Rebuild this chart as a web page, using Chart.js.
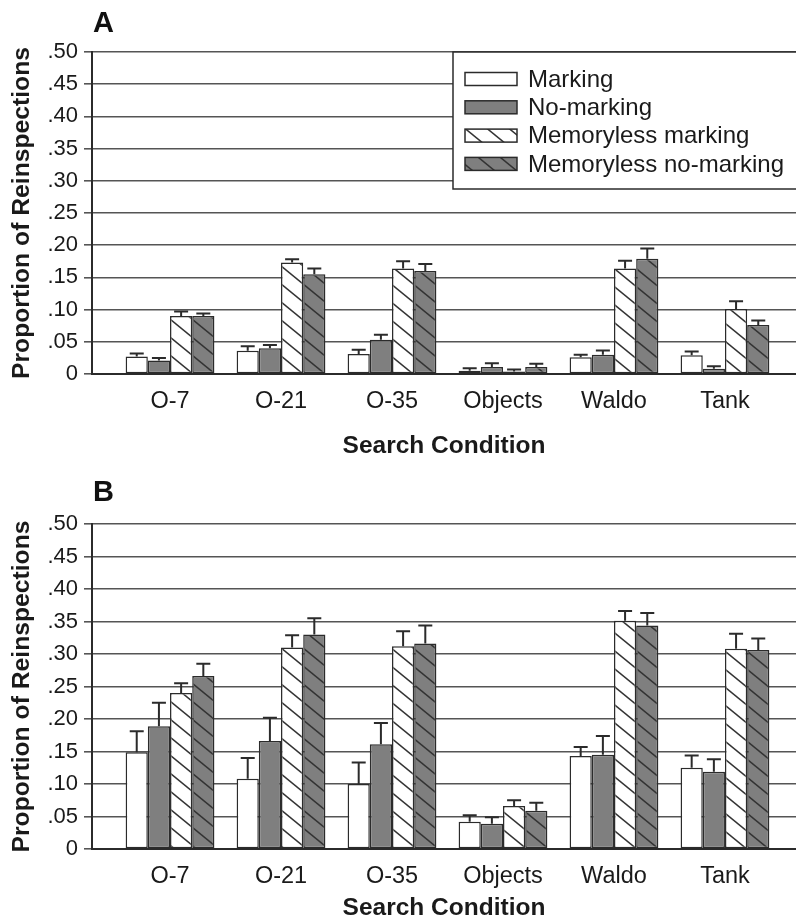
<!DOCTYPE html>
<html><head><meta charset="utf-8">
<script src="https://cdn.jsdelivr.net/npm/chart.js@4.4.1/dist/chart.umd.min.js"></script>
<style>
html,body{margin:0;padding:0;background:#fff;overflow:hidden;}
#wrap{position:relative;width:796px;height:924px;background:#fff;}
canvas{position:absolute;left:0;}
#cA{top:0;}
#cB{top:472px;}
</style></head><body>
<div id="wrap"><canvas id="cA" width="796" height="472"></canvas><canvas id="cB" width="796" height="452"></canvas></div>
<script>
const categories = ['O-7', 'O-21', 'O-35', 'Objects', 'Waldo', 'Tank'];
const seriesLabels = ['Marking', 'No-marking', 'Memoryless marking', 'Memoryless no-marking'];
const yTickValues = [0, 0.05, 0.10, 0.15, 0.20, 0.25, 0.30, 0.35, 0.40, 0.45, 0.50];

// Panel A
const markingA      = [0.027, 0.036, 0.031, 0.005, 0.026, 0.029];
const noMarkingA    = [0.021, 0.040, 0.053, 0.011, 0.030, 0.008];
const mlMarkingA    = [0.090, 0.173, 0.164, 0.004, 0.164, 0.101];
const mlNoMarkingA  = [0.090, 0.155, 0.160, 0.011, 0.179, 0.076];
const markingErrA     = [0.005, 0.007, 0.0065, 0.004, 0.004, 0.006];
const noMarkingErrA   = [0.004, 0.005, 0.008, 0.0055, 0.0065, 0.004];
const mlMarkingErrA   = [0.007, 0.005, 0.011, 0.003, 0.012, 0.012];
const mlNoMarkingErrA = [0.004, 0.009, 0.011, 0.005, 0.016, 0.007];

// Panel B
const markingB      = [0.149, 0.108, 0.100, 0.042, 0.143, 0.125];
const noMarkingB    = [0.189, 0.166, 0.161, 0.039, 0.145, 0.119];
const mlMarkingB    = [0.240, 0.310, 0.312, 0.066, 0.351, 0.308];
const mlNoMarkingB  = [0.266, 0.330, 0.316, 0.059, 0.344, 0.306];
const markingErrB     = [0.032, 0.032, 0.033, 0.010, 0.014, 0.019];
const noMarkingErrB   = [0.036, 0.036, 0.033, 0.010, 0.029, 0.019];
const mlMarkingErrB   = [0.015, 0.019, 0.023, 0.009, 0.015, 0.023];
const mlNoMarkingErrB = [0.019, 0.025, 0.028, 0.012, 0.019, 0.018];

const FONT = "'Liberation Sans', Arial, Helvetica, sans-serif";
const INK = '#2b2b2b';
const GRAY = '#7f7f7f';

function hatch(ctx, bg) {
  const w = 22, h = 18;
  const c = document.createElement('canvas');
  c.width = w; c.height = h;
  const x = c.getContext('2d');
  x.fillStyle = bg; x.fillRect(0, 0, w, h);
  x.strokeStyle = '#333'; x.lineWidth = 1.5;
  for (let k = -1; k <= 1; k++) {
    x.beginPath(); x.moveTo(k * w - w, -h); x.lineTo(k * w + 2 * w, 2 * h); x.stroke();
  }
  return ctx.createPattern(c, 'repeat');
}

const errPlugin = {
  id: 'errbars',
  afterDatasetsDraw(chart) {
    const ctx = chart.ctx, ys = chart.scales.y;
    ctx.save();
    ctx.strokeStyle = INK; ctx.lineWidth = 2;
    chart.data.datasets.forEach((ds, i) => {
      const meta = chart.getDatasetMeta(i);
      meta.data.forEach((bar, j) => {
        const v = ds.data[j].y, e = ds.errors[j];
        const y0 = ys.getPixelForValue(v), y1 = ys.getPixelForValue(v + e);
        ctx.beginPath();
        ctx.moveTo(bar.x, y0); ctx.lineTo(bar.x, y1);
        ctx.moveTo(bar.x - 7, y1); ctx.lineTo(bar.x + 7, y1);
        ctx.stroke();
      });
    });
    ctx.restore();
  }
};

const panelPlugin = {
  id: 'panelDeco',
  afterDraw(chart, args, opts) {
    const ctx = chart.ctx;
    ctx.save();
    ctx.fillStyle = '#111';
    ctx.font = 'bold 29px ' + FONT;
    ctx.textAlign = 'left'; ctx.textBaseline = 'middle';
    ctx.fillText(opts.letter, chart.chartArea.left + 1, opts.letterY);
    if (opts.legend) {
      const L = { x: 453, y: 52, w: 360, h: 137 };
      ctx.fillStyle = '#fff';
      ctx.fillRect(L.x, L.y, L.w, L.h);
      ctx.strokeStyle = INK; ctx.lineWidth = 1.5;
      ctx.strokeRect(L.x, L.y, L.w, L.h);
      chart.data.datasets.forEach((ds, i) => {
        const yc = 79 + i * 28.3;
        ctx.fillStyle = ds.backgroundColor;
        ctx.fillRect(465, yc - 6.5, 52, 13);
        ctx.strokeStyle = INK; ctx.lineWidth = 1.5;
        ctx.strokeRect(465, yc - 6.5, 52, 13);
        ctx.fillStyle = '#1a1a1a';
        ctx.font = '24px ' + FONT;
        ctx.textAlign = 'left'; ctx.textBaseline = 'middle';
        ctx.fillText(ds.label, 528, yc + 1);
      });
    }
    ctx.restore();
  }
};

function makePanel(canvas, seriesList, errList, lay) {
  const ctx = canvas.getContext('2d');
  const fills = [ '#ffffff', GRAY, hatch(ctx, '#ffffff'), hatch(ctx, GRAY) ];
  const datasets = seriesList.map((vals, s) => ({
    label: seriesLabels[s],
    data: vals.map((v, i) => ({ x: i, y: v })),
    errors: errList[s],
    backgroundColor: fills[s],
    borderColor: INK,
    borderWidth: 1.5,
    borderSkipped: false,
    categoryPercentage: 0.8,
    barPercentage: 1.0
  }));
  return new Chart(canvas, {
    type: 'bar',
    data: { datasets },
    options: {
      responsive: false, animation: false, devicePixelRatio: 1,
      layout: { padding: { left: 4, top: lay.top, right: 0, bottom: 0 } },
      plugins: { legend: { display: false }, tooltip: { enabled: false },
                 panelDeco: { letter: lay.letter, letterY: lay.letterY, legend: lay.legend } },
      scales: {
        x: {
          type: 'linear', min: -0.703, max: 5.64, bounds: 'data', offset: false,
          afterBuildTicks: s => { s.ticks = categories.map((_, i) => ({ value: i })); },
          ticks: { callback: v => categories[v] ?? '', font: { family: FONT, size: 23.5 }, color: '#1a1a1a',
                   padding: lay.xTickPad, autoSkip: false, maxRotation: 0 },
          grid: { display: false, drawTicks: false },
          border: { display: true, color: INK, width: 2 },
          title: { display: true, text: 'Search Condition', color: '#1a1a1a',
                   font: { family: FONT, size: 24.5, weight: 'bold' }, padding: { top: 0, bottom: lay.xTitlePad } },
          afterFit: s => { s.height = lay.xH; }
        },
        y: {
          min: 0, max: 0.5,
          afterBuildTicks: s => { s.ticks = yTickValues.map(v => ({ value: v })); },
          ticks: { callback: v => v === 0 ? '0' : v.toFixed(2).replace(/^0/, ''),
                   font: { family: FONT, size: 22 }, color: '#1a1a1a', padding: 6 },
          grid: { color: '#555', lineWidth: 1.6, tickLength: 8, drawTicks: true },
          border: { display: true, color: INK, width: 2 },
          title: { display: true, text: 'Proportion of Reinspections', color: '#1a1a1a',
                   font: { family: FONT, size: 24.7, weight: 'bold' }, padding: { top: 3, bottom: 0 } },
          afterFit: s => { s.width = 88; }
        }
      }
    },
    plugins: [errPlugin, panelPlugin]
  });
}

makePanel(document.getElementById('cA'),
  [markingA, noMarkingA, mlMarkingA, mlNoMarkingA],
  [markingErrA, noMarkingErrA, mlMarkingErrA, mlNoMarkingErrA],
  { top: 52, xH: 98, xTickPad: 13, xTitlePad: 11, letter: 'A', letterY: 24, legend: true });

makePanel(document.getElementById('cB'),
  [markingB, noMarkingB, mlMarkingB, mlNoMarkingB],
  [markingErrB, noMarkingErrB, mlMarkingErrB, mlNoMarkingErrB],
  { top: 52, xH: 75, xTickPad: 13.5, xTitlePad: 1.5, letter: 'B', letterY: 21, legend: false });
</script>
</body></html>
